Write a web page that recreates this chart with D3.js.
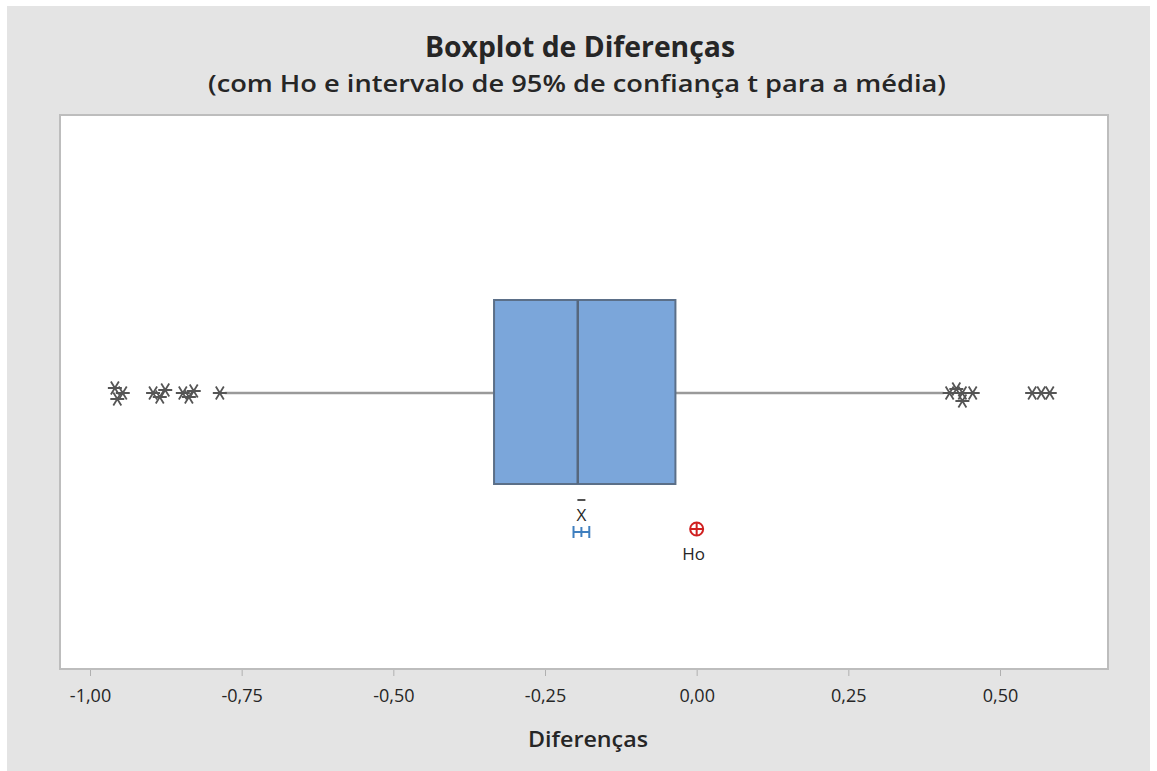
<!DOCTYPE html>
<html>
<head>
<meta charset="utf-8">
<script src="https://cdn.jsdelivr.net/npm/d3@7"></script>
<style>
  html, body { margin: 0; padding: 0; background: #ffffff; }
  svg { display: block; }
  text { font-family: "Open Sans", "Noto Sans", sans-serif; fill: #262626; }
</style>
</head>
<body>
<svg id="chart" width="1157" height="771"></svg>
<script>
// Summary statistics of the differences
const boxStats = { q1: -0.334, median: -0.196, q3: -0.035, whiskerLow: -0.778, whiskerHigh: 0.407 };
// Outlying differences and their small vertical offsets (ties drawn apart)
const outlierValues = [-0.959, -0.955, -0.946, -0.896, -0.885, -0.876, -0.847, -0.837, -0.829, -0.786,
                       0.417, 0.428, 0.438, 0.438, 0.455, 0.553, 0.568, 0.582];
const outlierOffsets = [-5, 6, 0, 0, 4, -3, 0, 4, -2, 0,
                        0, -4, 0, 8, 0, 0, 0, 0];
// Mean with its 95% t confidence interval, and the hypothesised value
const meanValue = [-0.190];
const ciBounds = [-0.203, -0.177];
const h0Value = [0.0];
// Axis ticks
const tickValues = [-1.0, -0.75, -0.5, -0.25, 0.0, 0.25, 0.5];

const svg = d3.select("#chart");

// Grey panel behind the chart
svg.append("rect").attr("x", 7).attr("y", 6).attr("width", 1143).attr("height", 765).attr("fill", "#e4e4e4");

const plot = { left: 60, top: 115, right: 1108, bottom: 669 };

svg.append("rect")
  .attr("x", plot.left).attr("y", plot.top)
  .attr("width", plot.right - plot.left).attr("height", plot.bottom - plot.top)
  .attr("fill", "#ffffff").attr("stroke", "#bdbdbd").attr("stroke-width", 2);

const x = d3.scaleLinear().domain([-1.0, 0.5]).range([90, 1000]);

// Titles
svg.append("text").attr("x", 580).attr("y", 57).attr("text-anchor", "middle")
  .attr("font-size", 28).attr("font-weight", "bold")
  .attr("textLength", 310).attr("lengthAdjust", "spacingAndGlyphs")
  .text("Boxplot de Diferenças");
svg.append("text").attr("x", 577).attr("y", 92).attr("text-anchor", "middle")
  .attr("font-size", 24).attr("font-weight", 600)
  .attr("textLength", 738).attr("lengthAdjust", "spacingAndGlyphs")
  .text("(com Ho e intervalo de 95% de confiança t  para a média)");

// X axis
const fmt = d => d3.format(".2f")(d).replace(".", ",").replace("−", "-");
const axis = svg.append("g").attr("transform", `translate(0,${plot.bottom + 1})`)
  .call(d3.axisBottom(x).tickValues(tickValues).tickSize(6).tickPadding(13).tickFormat(fmt));
axis.select(".domain").remove();
axis.selectAll(".tick line").attr("stroke", "#b0b0b0");
axis.selectAll(".tick text").attr("font-size", 18).attr("fill", "#262626");

svg.append("text").attr("x", 588).attr("y", 747).attr("text-anchor", "middle")
  .attr("font-size", 22).attr("font-weight", 600)
  .attr("textLength", 120).attr("lengthAdjust", "spacingAndGlyphs")
  .text("Diferenças");

// Box plot
const yMid = 393, boxTop = 300, boxBottom = 484;

svg.append("line")
  .attr("x1", x(boxStats.whiskerLow)).attr("x2", x(boxStats.q1))
  .attr("y1", yMid).attr("y2", yMid).attr("stroke", "#9a9a9a").attr("stroke-width", 2.5);
svg.append("line")
  .attr("x1", x(boxStats.q3)).attr("x2", x(boxStats.whiskerHigh))
  .attr("y1", yMid).attr("y2", yMid).attr("stroke", "#9a9a9a").attr("stroke-width", 2.5);

svg.append("rect")
  .attr("x", x(boxStats.q1)).attr("y", boxTop)
  .attr("width", x(boxStats.q3) - x(boxStats.q1)).attr("height", boxBottom - boxTop)
  .attr("fill", "#7ba6da").attr("stroke", "#5b6f88").attr("stroke-width", 2);
svg.append("line")
  .attr("x1", x(boxStats.median)).attr("x2", x(boxStats.median))
  .attr("y1", boxTop).attr("y2", boxBottom).attr("stroke", "#56677d").attr("stroke-width", 2.5);

// Outliers as asterisks
const star = "M-7,0L7,0M-4,-6.5L4,6.5M-4,6.5L4,-6.5";
svg.append("g").selectAll("path").data(outlierValues).join("path")
  .attr("transform", (d, i) => `translate(${x(d)},${yMid + outlierOffsets[i]})`)
  .attr("d", star).attr("fill", "none").attr("stroke", "#555555").attr("stroke-width", 1.8);

// Mean and confidence interval
const yCI = 532;
svg.append("g").selectAll("line.ci").data([ciBounds]).join("line")
  .attr("x1", d => x(d[0])).attr("x2", d => x(d[1]))
  .attr("y1", yCI).attr("y2", yCI).attr("stroke", "#3f7fbf").attr("stroke-width", 2);
svg.append("g").selectAll("line").data(ciBounds.concat(meanValue)).join("line")
  .attr("x1", d => x(d)).attr("x2", d => x(d))
  .attr("y1", (d, i) => i < 2 ? yCI - 6 : yCI - 5).attr("y2", (d, i) => i < 2 ? yCI + 6 : yCI + 5)
  .attr("stroke", "#3f7fbf").attr("stroke-width", 2);

const mx = x(meanValue[0]);
svg.append("line").attr("x1", mx - 4).attr("x2", mx + 4).attr("y1", 500).attr("y2", 500)
  .attr("stroke", "#262626").attr("stroke-width", 1.6);
svg.append("text").attr("x", mx).attr("y", 521).attr("text-anchor", "middle")
  .attr("font-size", 17).text("X");

// Null hypothesis marker
const hx = x(h0Value[0]), hy = 529;
svg.append("circle").attr("cx", hx).attr("cy", hy).attr("r", 6.5)
  .attr("fill", "none").attr("stroke", "#d02020").attr("stroke-width", 2);
svg.append("path").attr("d", `M${hx - 6.5},${hy}L${hx + 6.5},${hy}M${hx},${hy - 6.5}L${hx},${hy + 6.5}`)
  .attr("stroke", "#d02020").attr("stroke-width", 2);
svg.append("text").attr("x", hx - 3).attr("y", 560).attr("text-anchor", "middle")
  .attr("font-size", 17).text("Ho");
</script>
</body>
</html>
